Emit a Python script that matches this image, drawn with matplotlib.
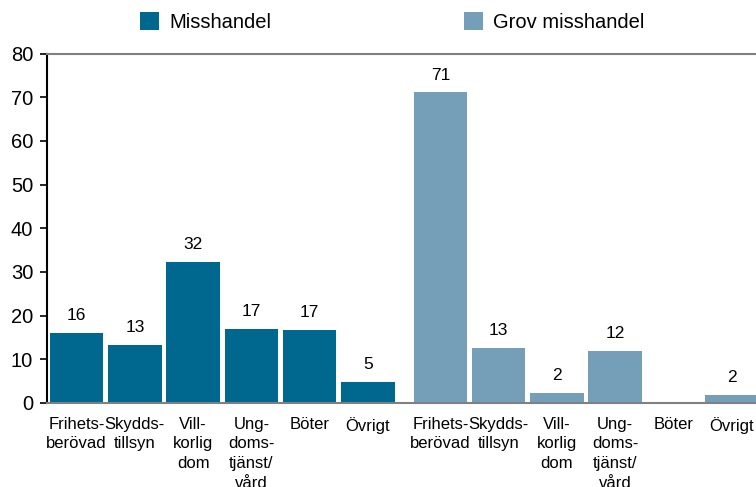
import numpy as np
import matplotlib.pyplot as plt

plt.rcParams['font.family'] = ['Liberation Sans', 'DejaVu Sans']

# data
categories = ['Frihets-\nberövad', 'Skydds-\ntillsyn', 'Vill-\nkorlig\ndom',
              'Ung-\ndoms-\ntjänst/\nvård', 'Böter', 'Övrigt']
misshandel = [16.1, 13.3, 32.3, 16.9, 16.7, 4.8]
misshandel_labels = ['16', '13', '32', '17', '17', '5']
grov = [71.1, 12.7, 2.3, 11.9, 0, 1.8]
grov_labels = ['71', '13', '2', '12', '', '2']
series_names = ['Misshandel', 'Grov misshandel']

c_dark = '#00688f'
c_light = '#759fb9'

fig = plt.figure(figsize=(7.56, 4.87), dpi=100)
ax = fig.add_axes([47 / 756, (487 - 403) / 487, 1 - 47 / 756, (403 - 53.5) / 487])

x1 = np.arange(len(categories))
x2 = x1 + 6.25
w = 0.92

b1 = ax.bar(x1, misshandel, width=w, color=c_dark, label=series_names[0])
b2 = ax.bar(x2, grov, width=w, color=c_light, label=series_names[1])

for bars, labs in [(b1, misshandel_labels), (b2, grov_labels)]:
    for b, t in zip(bars, labs):
        if t:
            ax.annotate(t, (b.get_x() + b.get_width() / 2, b.get_height()),
                        xytext=(0, 7), textcoords='offset points',
                        ha='center', va='bottom', fontsize=12.5)

ax.set_ylim(0, 80)
ax.set_yticks(range(0, 81, 10))
ax.set_xlim(-0.51, 11.67)
ax.set_xticks(list(x1) + list(x2))
ax.set_xticklabels(categories * 2, fontsize=12, va='top', linespacing=1.38)
ax.tick_params(axis='x', length=0, pad=10)
ax.tick_params(axis='y', length=5, width=1.2, pad=5, labelsize=14.5, color='black')

ax.spines['right'].set_visible(False)
ax.spines['left'].set_color('black')
ax.spines['left'].set_linewidth(1.5)
for s in ['top', 'bottom']:
    ax.spines[s].set_color('#808080')
    ax.spines[s].set_linewidth(1.5)
ax.spines['bottom'].set_zorder(5)

fig.legend(handles=[b1, b2], labels=series_names, loc='upper left',
           bbox_to_anchor=(122 / 756, 1.012), ncol=2, frameon=False,
           fontsize=14.5, handlelength=0.95, handleheight=1.0,
           handletextpad=0.5, columnspacing=9.55)

fig.savefig('out.png', dpi=100)
